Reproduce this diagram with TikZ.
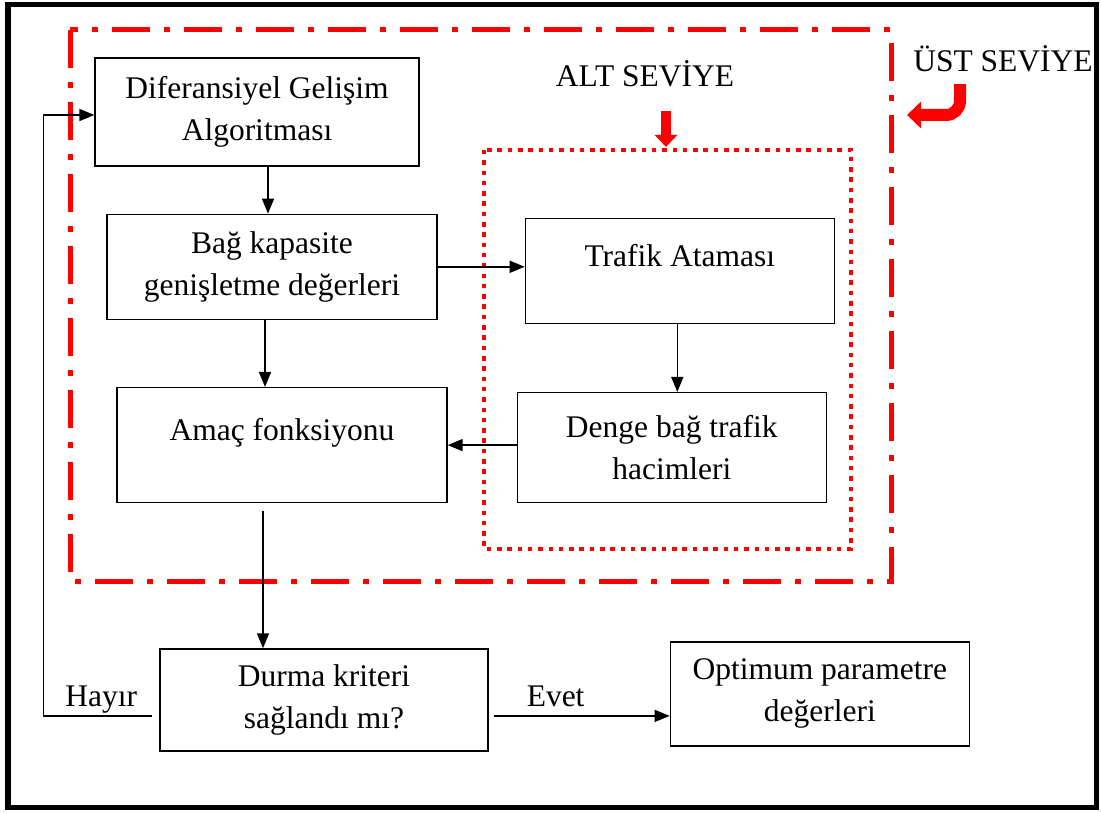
\documentclass[tikz,border=0pt]{standalone}
\usepackage{fontspec}
\setmainfont{Liberation Serif}
\usetikzlibrary{positioning,arrows.meta}

\begin{document}
\begin{tikzpicture}[x=1pt,y=-1pt]
\tikzstyle{every node}=[font=\fontsize{31.5}{42}\selectfont]
\tikzstyle{block}=[draw,line width=1.3pt,align=center,inner sep=2pt]
\tikzstyle{flow}=[draw,line width=1.5pt,-{Triangle[length=15pt,width=12pt]}]
\tikzstyle{lbl}=[above,inner sep=2pt,text depth=7pt]
\tikzstyle{redarrow}=[draw=red]

\useasboundingbox (0,0) rectangle (1101,813);
\draw[line width=5.5pt] (8,4.5) rectangle (1096.5,807.5);

% seviye cerceveleri
\coordinate (ust nw) at (70,30);
\coordinate (ust se) at (891,581);
\coordinate (alt nw) at (484,150);
\coordinate (alt se) at (851,549);
\coordinate (ust tip) at (907,115);
\draw[red,line width=5pt,dash pattern=on 38pt off 14pt on 6pt off 14pt] (ust nw) rectangle (ust se);
\draw[red,line width=4.5pt,dash pattern=on 4.5pt off 5.8pt] (alt nw) rectangle (alt se);

\node[block,minimum width=324pt,minimum height=108pt] (alg) at (257,112) {Diferansiyel Gelişim\\Algoritması};
\node[block,minimum width=330pt,minimum height=105pt,below=47pt of alg,xshift=15pt] (bag) {Bağ kapasite\\genişletme değerleri};
\node[block,minimum width=330pt,minimum height=115pt,below=67pt of bag,xshift=10pt,text height=22pt,text depth=31pt] (amac) {Amaç fonksiyonu};
\node[block,minimum width=309pt,minimum height=105pt,right=87pt of bag,yshift=-4pt,text height=22pt,text depth=31pt] (trafik) {Trafik Ataması};
\node[block,minimum width=309pt,minimum height=110pt,below=68pt of trafik,xshift=-8pt] (denge) {Denge bağ trafik\\hacimleri};
\node[block,minimum width=328pt,minimum height=102pt,below=145pt of amac,xshift=42pt] (durma) {Durma kriteri\\sağlandı mı?};
\node[block,minimum width=299pt,minimum height=104pt,right=181pt of durma,yshift=6pt] (opt) {Optimum parametre\\değerleri};

\node[anchor=base] (alt lbl) at (645,87) {ALT SEVİYE};
\node[anchor=base] (ust lbl) at (1003,72) {ÜST SEVİYE};

\draw[flow] ([xshift=11pt]alg.south) -- ([xshift=11pt]alg.south |- bag.north);
\draw[flow] ([xshift=-7pt]bag.south) -- ([xshift=-7pt]bag.south |- amac.north);
\draw[flow] (bag.east) -- (bag.east -| trafik.west);
\draw[flow] ([xshift=-2.5pt]trafik.south) -- ([xshift=-2.5pt]trafik.south |- denge.north);
\draw[flow] (denge.west |- amac.east) -- (amac.east);
\draw[flow,shorten <=8pt] ([xshift=-19pt]amac.south) -- ([xshift=-19pt]amac.south |- durma.north);
\draw[flow,shorten <=5pt] ([yshift=-16pt]durma.east) -- node[lbl,pos=0.37] (evet) {Evet} ([yshift=-16pt]durma.east -| opt.west);
\draw[flow,shorten <=7pt] ([yshift=-16pt]durma.west) -- node[lbl] (hayir) {Hayır} ++(-116,0) |- ([yshift=-3pt]alg.west);

\draw[redarrow,line width=10pt,-{Triangle[length=12pt,width=22pt]},shorten <=20pt,shorten >=3pt] ([xshift=21pt]alt lbl.south) -- ([xshift=21pt]alt lbl.south |- alt nw);
\draw[redarrow,line width=12pt,-{Triangle[length=14pt,width=26pt]},rounded corners=14pt,shorten <=8pt] ([xshift=-43pt]ust lbl.south) |- (ust tip);
\end{tikzpicture}
\end{document}
